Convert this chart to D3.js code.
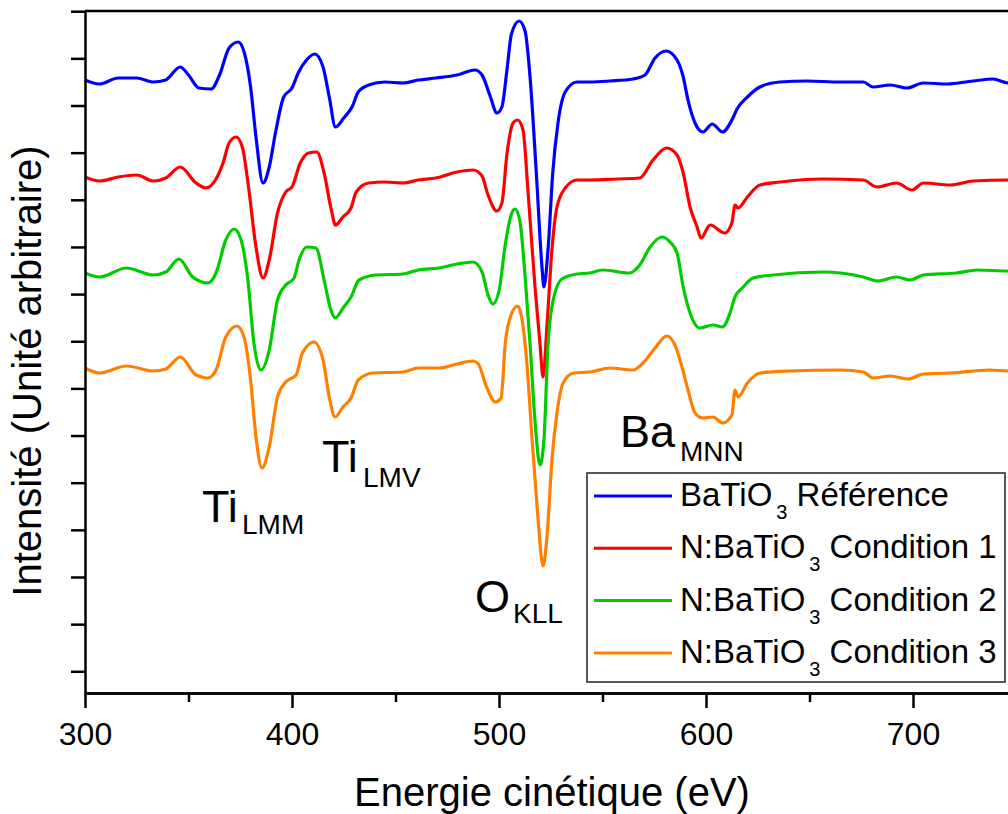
<!DOCTYPE html>
<html><head><meta charset="utf-8">
<script src="https://cdn.jsdelivr.net/npm/d3@7"></script>
<style>html,body{margin:0;padding:0;background:#fff;overflow:hidden}
text{font-family:"Liberation Sans",Arial,Helvetica,sans-serif;fill:#000}</style>
</head><body>
<svg id="c" width="1008" height="814"></svg>
<script>
// Energy (eV), intensity (arbitrary units, stacked) pairs
const refSpectrum = [[300,613],[307,609],[316,615],[325,615],[333,611],[339,613],[346,626],[350,618],[355,605],[361,604],[365,618],[369.6,645],[374,651],[377,640],[380,606],[382.6,556],[386,510],[389,526],[392,560],[396,596],[400,605],[403,620],[407,633],[411,639],[415,626],[418,596],[421,566],[425,575],[429,586],[432,601],[437,608],[445,611],[453.6,610],[461,613],[469.6,615],[479.7,618],[488.4,623],[491.8,618],[495.7,597],[499,580],[501.4,586],[503.9,624],[506,659],[509.7,672],[512.6,662],[515,616],[518,521],[520.8,425],[521.7,406],[523.7,444],[526,521],[528.5,570],[532,601],[537.7,611],[544,611],[553.6,612],[564.7,614],[570.5,618],[575.4,635],[580.7,642],[586,633],[589,616],[591.3,593],[594.7,570],[598.5,561],[603,569],[608,561],[612.5,573],[615,584],[620,596],[626,606],[635.7,611],[648.8,612],[664.7,611],[676,611],[680.7,606],[689,608],[697,605],[705,610],[716.4,609],[729,612],[738.6,614],[746,610],[752,611]];
const cond1Spectrum = [[300,516],[307,512],[316,516],[325,518],[333,512],[339,515],[346,526],[353.6,510],[358.5,505],[362,510],[366.7,530],[369.6,550],[373,556],[376,546],[379,506],[382.6,446],[386,415],[389,433],[393,480],[397,501],[400,506],[404,530],[408,540],[412,541],[415.5,520],[419,483],[421,468],[424.6,476],[428.5,485],[431,501],[437,510],[445,511],[453.6,510],[461,513],[469.6,515],[479.7,521],[487.5,523],[491.8,517],[494.7,498],[499,482],[501.4,490],[503.9,540],[506.8,570],[509,573],[511.6,563],[514,502],[517.4,406],[519.8,349],[521.3,316],[523.2,368],[525.6,444],[528,486],[532,505],[537.7,513],[544,513],[557,514],[568,515],[574.4,533],[581,545],[586,538],[589,520],[592.3,486],[595.7,466],[597.6,455],[602,468],[609,460],[612.5,470],[614,488],[615.5,485],[620,496],[626,508],[635.7,511],[656.5,514],[676,513],[682.6,506],[692,510],[699.5,503],[705,510],[718,508],[729,512],[746,513],[752,513]];
const cond2Spectrum = [[300,420],[307,416],[320,425],[333,418],[339,421],[345.4,434],[352,416],[359.4,410],[363.3,420],[368,453],[372,464],[375.4,453],[378.7,413],[381.6,350],[385,323],[389,343],[393,393],[397,408],[401,415],[403.4,433],[407.2,446],[411.6,445],[415.5,413],[418.8,383],[420.8,375],[425,386],[428.5,396],[432.4,413],[440.6,418],[453.6,419],[461,423],[471,425],[479.7,429],[487.5,431],[491.8,421],[494.7,398],[497,389],[500,402],[503,448],[506,479],[507.7,484],[510,473],[512.6,417],[515,349],[517.4,272],[519.8,228],[521.7,253],[523.7,349],[526,391],[530.4,414],[537.7,419],[544,420],[550,423],[563,420],[568,428],[573,446],[578.7,456],[582.6,451],[586,440],[589,406],[592.3,380],[597,365],[603.4,368],[608,366],[611.6,380],[614,396],[618,406],[622.7,415],[632.4,418],[656.5,421],[676,416],[683,412],[692,416],[698.6,413],[705,418],[721,420],[731,423],[746,422],[752,422]];
const cond3Spectrum = [[300,325],[307,320],[320,327],[333,322],[339,324],[346,336],[353.6,318],[359.4,315],[363.3,323],[368,356],[373.4,367],[376.8,356],[380,313],[382.6,256],[385.5,225],[389,246],[393,296],[397,311],[402,318],[405,340],[410.6,351],[415,333],[418,296],[420.8,276],[424.6,286],[428.5,295],[432,313],[439,320],[453.6,321],[461,325],[471,325],[479.7,329],[487.5,332],[490,329],[494,306],[498.3,291],[501,295],[503,349],[506,379],[509,387],[511,375],[513.5,329],[516,253],[518.5,184],[521.3,127],[523.2,157],[525.6,234],[528,280],[531,310],[536,320],[544,321],[553.6,325],[564.7,323],[569.6,330],[575.4,345],[581,357],[585,348],[588.4,326],[591.3,303],[594.7,280],[598.5,275],[603.4,276],[608,270],[612.5,278],[614,303],[615.5,296],[620,310],[626,320],[640.6,322],[664.7,323],[676,321],[680.7,315],[689,317],[697.6,314],[705,319],[718,320],[737,323],[746,322],[752,322]];

const seriesPrefix = ["BaTiO", "N:BaTiO", "N:BaTiO", "N:BaTiO"];
const seriesSuffix = [" Référence", " Condition 1", " Condition 2", " Condition 3"];
const seriesColors = ["#0000ff", "#ff0000", "#00cc00", "#ff8000"];
const xMajorTicks = [300, 400, 500, 600, 700];
const xMinorTicks = [350, 450, 550, 650, 750];
const peakMain = ["Ti", "Ti", "O", "Ba"];
const peakSub = ["LMM", "LMV", "KLL", "MNN"];

const series = [refSpectrum, cond1Spectrum, cond2Spectrum, cond3Spectrum];

const svg = d3.select("#c");
const x = d3.scaleLinear().domain([300, 800]).range([85, 1120]);
const y = d3.scaleLinear().domain([0, 682]).range([693, 11]);
const yTicks = d3.range(0, 15).map(k => 21.7 + 47.15 * k);

// curves
const line = d3.line().x(d => x(d[0])).y(d => y(d[1])).curve(d3.curveMonotoneX);
svg.append("g").selectAll("path").data(series).join("path")
  .attr("d", line).attr("fill", "none")
  .attr("stroke", (d, i) => seriesColors[i])
  .attr("stroke-width", 3.2).attr("stroke-linejoin", "round");

// axes
const axW = 2.5;
svg.append("line").attr("x1", 85).attr("x2", 1120).attr("y1", y(682)).attr("y2", y(682))
  .attr("stroke", "#000").attr("stroke-width", axW);

const yAx = svg.append("g").attr("transform", "translate(85,0)")
  .call(d3.axisLeft(y).tickValues(yTicks).tickSize(14).tickSizeOuter(0).tickFormat(""));
yAx.selectAll("path,line").attr("stroke", "#000").attr("stroke-width", axW);

const xMin = svg.append("g").attr("transform", "translate(0,693)")
  .call(d3.axisBottom(x).tickValues(xMinorTicks).tickSize(9).tickSizeOuter(0).tickFormat(""));
xMin.selectAll("path,line").attr("stroke", "#000").attr("stroke-width", axW);
const xAx = svg.append("g").attr("transform", "translate(0,693)")
  .call(d3.axisBottom(x).tickValues(xMajorTicks).tickSize(15).tickSizeOuter(0).tickFormat(d3.format("d")));
xAx.selectAll("path,line").attr("stroke", "#000").attr("stroke-width", axW);
xAx.selectAll("text").attr("font-size", 32).attr("dy", null).attr("y", 52)
  .style("font-family", '"Liberation Sans",Arial,sans-serif').attr("fill", "#000");

// axis titles
svg.append("text").attr("x", 552).attr("y", 806).attr("text-anchor", "middle")
  .attr("font-size", 40).text("Energie cinétique (eV)");
svg.append("text").attr("transform", "translate(41,371) rotate(-90)").attr("text-anchor", "middle")
  .attr("font-size", 40).text("Intensité (Unité arbitraire)");

// peak labels
const labelPos = [[202, 522, 242, 534], [322, 472, 363, 487], [475, 612, 513, 623], [620, 447, 680, 461]];
peakMain.forEach((m, i) => {
  const p = labelPos[i];
  svg.append("text").attr("x", p[0]).attr("y", p[1]).attr("font-size", 45).text(m);
  svg.append("text").attr("x", p[2]).attr("y", p[3]).attr("font-size", 28).text(peakSub[i]);
});

// legend
const lg = svg.append("g");
lg.append("rect").attr("x", 587).attr("y", 473).attr("width", 418).attr("height", 209)
  .attr("fill", "#fff").attr("stroke", "#222").attr("stroke-width", 1.5);
seriesColors.forEach((c, i) => {
  const ly = 496 + i * 52.3;
  lg.append("line").attr("x1", 594).attr("x2", 672).attr("y1", ly).attr("y2", ly)
    .attr("stroke", c).attr("stroke-width", 3);
  const t = lg.append("text").attr("x", 680).attr("y", ly + 10).attr("font-size", 33);
  t.append("tspan").text(seriesPrefix[i]);
  t.append("tspan").attr("font-size", 20).attr("dx", 4).attr("dy", 13).text("3");
  t.append("tspan").attr("dy", -13).text(seriesSuffix[i]);
});
</script>
</body></html>
